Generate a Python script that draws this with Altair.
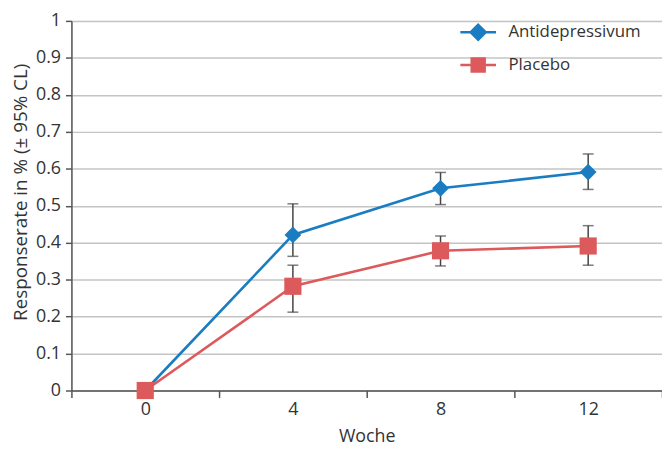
import altair as alt
import pandas as pd

weeks = ["0", "4", "8", "12"]
series_names = ["Antidepressivum", "Placebo"]
anti = [0.0, 0.421, 0.547, 0.591]
anti_lo = [None, 0.363, 0.503, 0.544]
anti_hi = [None, 0.505, 0.590, 0.640]
plac = [0.0, 0.282, 0.378, 0.391]
plac_lo = [None, 0.212, 0.337, 0.339]
plac_hi = [None, 0.339, 0.418, 0.446]
y_ticks = [0, 0.1, 0.2, 0.3, 0.4, 0.5, 0.6, 0.7, 0.8, 0.9, 1.0]

colors = ["#1b7dc1", "#dc5a5c"]
FONT = "Open Sans"
TOP = 11
H = 373

rows = []
for name, vals, lo, hi in [
    (series_names[0], anti, anti_lo, anti_hi),
    (series_names[1], plac, plac_lo, plac_hi),
]:
    for w, v, l, h in zip(weeks, vals, lo, hi):
        rows.append({"week": w, "series": name, "value": v, "lo": l, "hi": h})
df = pd.DataFrame(rows)

x_enc = alt.X(
    "week:N",
    sort=weeks,
    scale=alt.Scale(type="band", domain=weeks, paddingInner=0, paddingOuter=0),
    axis=alt.Axis(
        title="Woche",
        labelAngle=0,
        tickBand="extent",
        grid=False,
        domainColor="#555555",
        domainWidth=1.5,
        tickColor="#555555",
        tickWidth=1.5,
        tickSize=7,
        labelPadding=3,
        labelFont=FONT,
        labelFontSize=18,
        labelColor="#333333",
        titleFont=FONT,
        titleFontSize=18,
        titleFontWeight="normal",
        titleColor="#333333",
        titleX=298,
        titleY=46,
        titleBaseline="middle",
    ),
)
y_scale = alt.Scale(domain=[0, 1], nice=False)
y_axis = alt.Axis(
    title="Responserate in % (± 95% CL)",
    values=y_ticks,
    format="~g",
    grid=True,
    gridColor="#c4c4c4",
    gridWidth=1.5,
    domainColor="#555555",
    domainWidth=1.5,
    tickColor="#555555",
    tickWidth=1.5,
    tickSize=6,
    labelPadding=5,
    labelFont=FONT,
    labelFontSize=18,
    labelColor="#333333",
    titleFont=FONT,
    titleFontSize=19,
    titleFontWeight="normal",
    titleColor="#333333",
    titleX=-51,
    titleY=H / 2 - 14,
    titleBaseline="middle",
)

base = alt.Chart(df)

lines = []
points = []
for name, col, shp, sz in zip(series_names, colors, ["diamond", "square"], [285, 300]):
    sub = base.transform_filter(alt.datum.series == name)
    lines.append(
        sub.mark_line(color=col, strokeWidth=2.6).encode(
            x=x_enc, y=alt.Y("value:Q", scale=y_scale, axis=y_axis)
        )
    )
    points.append(
        sub.mark_point(shape=shp, filled=True, opacity=1, size=sz, color=col).encode(
            x=x_enc, y=alt.Y("value:Q", scale=y_scale, axis=y_axis)
        )
    )

err = base.transform_filter("isValid(datum.lo)")
err_rule = err.mark_rule(color="#444444", strokeWidth=1.5).encode(
    x=x_enc, y=alt.Y("lo:Q", scale=y_scale, axis=y_axis), y2="hi:Q"
)
cap_lo = err.mark_tick(color="#444444", thickness=1.5, size=11, orient="horizontal").encode(
    x=x_enc, y=alt.Y("lo:Q", scale=y_scale, axis=y_axis)
)
cap_hi = err.mark_tick(color="#444444", thickness=1.5, size=11, orient="horizontal").encode(
    x=x_enc, y=alt.Y("hi:Q", scale=y_scale, axis=y_axis)
)

legend_paths = [
    "M-1,0L1,0M0,-0.42L0.42,0L0,0.42L-0.42,0Z",
    "M-1,0L1,0M-0.36,-0.36L0.36,-0.36L0.36,0.36L-0.36,0.36Z",
]
leg_common = dict(
    title=None,
    orient="none",
    legendX=391,
    legendY=-8,
    symbolSize=1296,
    symbolStrokeWidth=2.6,
    symbolOpacity=1,
    labelFont=FONT,
    labelFontSize=17,
    labelColor="#333333",
    labelOffset=11,
    rowPadding=0,
)
legend_layer = (
    base.transform_filter("false")
    .mark_point(filled=True, size=1296, opacity=1)
    .encode(
        x=x_enc,
        y=alt.Y("value:Q", scale=y_scale, axis=y_axis),
        fill=alt.Fill(
            "series:N",
            scale=alt.Scale(domain=series_names, range=colors),
            legend=alt.Legend(**leg_common),
        ),
        stroke=alt.Stroke(
            "series:N",
            scale=alt.Scale(domain=series_names, range=colors),
            legend=alt.Legend(**leg_common),
        ),
        shape=alt.Shape(
            "series:N",
            scale=alt.Scale(domain=series_names, range=legend_paths),
            legend=alt.Legend(**leg_common),
        ),
    )
)

chart = alt.layer(
    *lines, err_rule, cap_lo, cap_hi, *points, legend_layer
).properties(
    width=596,
    height=H,
    autosize=alt.AutoSizeParams(type="none"),
    padding={"left": 64, "top": TOP, "right": 0, "bottom": 55},
).configure_view(stroke=None).configure(background="white")

chart.save("out.html", embed_options={"renderer": "svg", "actions": False})
